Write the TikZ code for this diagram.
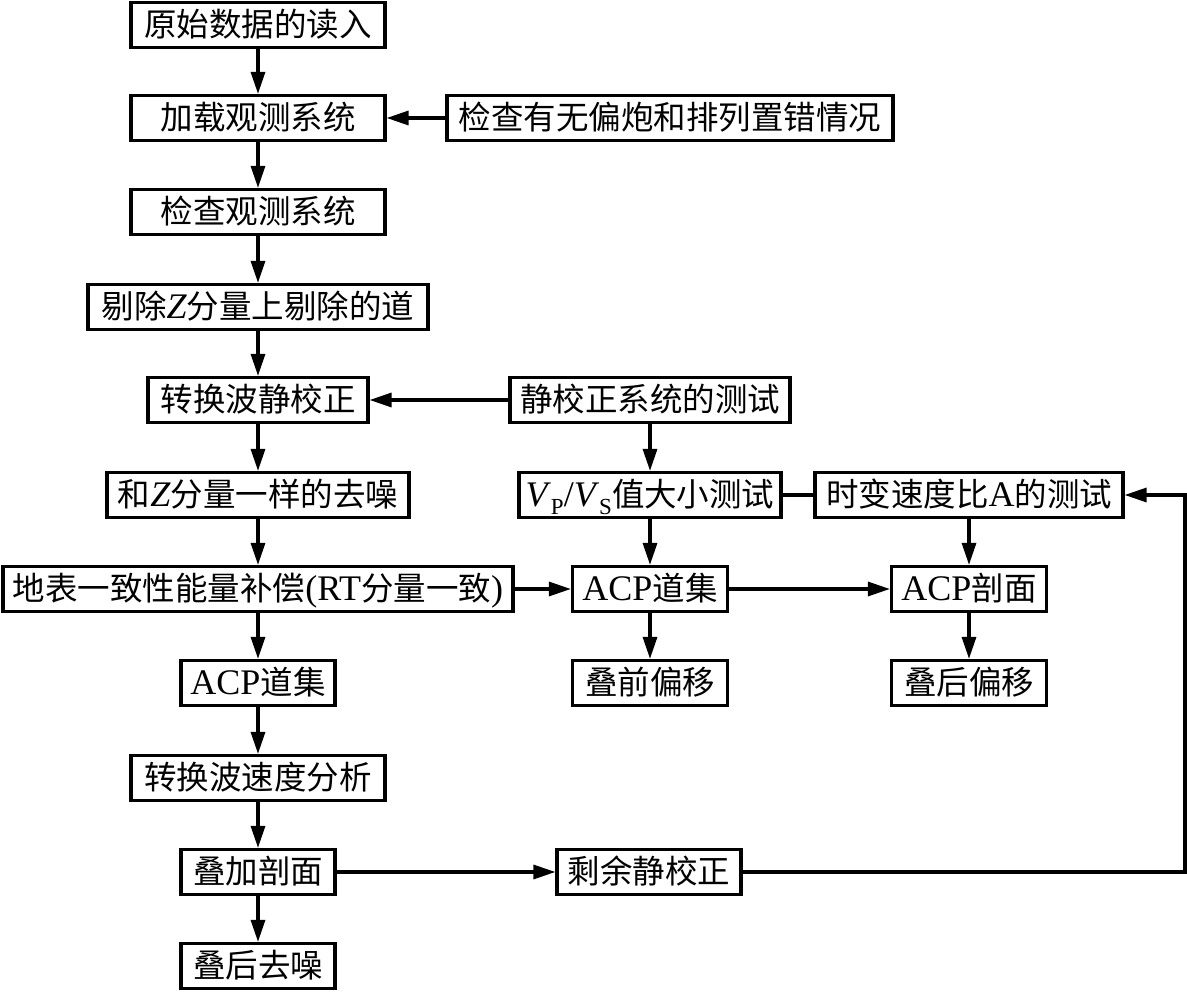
\documentclass[tikz,border=0pt]{standalone}
\usepackage{fontspec}
\setmainfont{Liberation Serif}
\newfontfamily\cjk{Noto Sans CJK SC}
\usetikzlibrary{arrows.meta}
\newcommand\la[1]{{\rmfamily\fontsize{36}{38}\selectfont #1}}
\newcommand\lsub[1]{\raisebox{-8pt}{\fontsize{23}{24}\selectfont #1}}
\begin{document}
\begin{tikzpicture}[x=1pt,y=-1pt,
  box/.style={draw,line width=3.2pt,minimum height=45pt,inner sep=0pt,
    font=\cjk\fontsize{32.5}{38}\selectfont,text height=26pt,text depth=2.5pt},
  conn/.style={line width=3.2pt},
  arr/.style={conn,-{Triangle[length=22pt,width=14pt]}}]
\useasboundingbox (0,0) rectangle (1187,992);
% main column
\node[box,minimum width=254pt] (b1) at (258,25) {原始数据的读入};
\node[box,minimum width=254pt] (b2) at (258,118) {加载观测系统};
\node[box,minimum width=446pt] (chk) at (670,118) {检查有无偏炮和排列置错情况};
\node[box,minimum width=254pt] (b3) at (258,212) {检查观测系统};
\node[box,minimum width=340pt] (b4) at (258,307) {剔除\la{\textit{Z}}分量上剔除的道};
\node[box,minimum width=220pt] (b5) at (258,400) {转换波静校正};
\node[box,minimum width=280pt] (stat) at (650,400) {静校正系统的测试};
\node[box,minimum width=302pt] (b6) at (258,495) {和\la{\textit{Z}}分量一样的去噪};
\node[box,minimum width=262pt] (vp) at (650,495) {\la{\textit{V}\lsub{P}/\textit{V}\lsub{S}}值大小测试};
\node[box,minimum width=308pt] (tv) at (969,495) {时变速度比\la{A}的测试};
\node[box,minimum width=510pt] (b7) at (258,589) {地表一致性能量补偿\la{(RT}分量一致\la{)}};
\node[box,minimum width=155pt] (acp2) at (650,589) {\la{ACP}道集};
\node[box,minimum width=155pt] (acps) at (969,589) {\la{ACP}剖面};
\node[box,minimum width=154pt] (b8) at (258,683) {\la{ACP}道集};
\node[box,minimum width=155pt] (pre) at (650,683) {叠前偏移};
\node[box,minimum width=155pt] (post) at (969,683) {叠后偏移};
\node[box,minimum width=254pt] (b9) at (258,778) {转换波速度分析};
\node[box,minimum width=154pt] (b10) at (258,872) {叠加剖面};
\node[box,minimum width=184pt] (res) at (649,872) {剩余静校正};
\node[box,minimum width=154pt] (b11) at (258,966) {叠后去噪};
\coordinate (rc) at (1185,872);
% connectors
\draw[arr] (b1) -- (b2);
\draw[arr] (b2) -- (b3);
\draw[arr] (b3) -- (b4);
\draw[arr] (b4) -- (b5);
\draw[arr] (b5) -- (b6);
\draw[arr] (b6) -- (b7);
\draw[arr] (b7) -- (b8);
\draw[arr] (b8) -- (b9);
\draw[arr] (b9) -- (b10);
\draw[arr] (b10) -- (b11);
\draw[arr] (chk) -- (b2);
\draw[arr] (stat) -- (b5);
\draw[arr] (stat) -- (vp);
\draw[conn] (vp) -- (tv);
\draw[arr] (vp) -- (acp2);
\draw[arr] (tv) -- (acps);
\draw[arr] (b7) -- (acp2);
\draw[arr] (acp2) -- (acps);
\draw[arr] (acp2) -- (pre);
\draw[arr] (acps) -- (post);
\draw[arr] (b10) -- (res);
\draw[arr] (res) -- (rc) |- (tv);
\end{tikzpicture}
\end{document}
